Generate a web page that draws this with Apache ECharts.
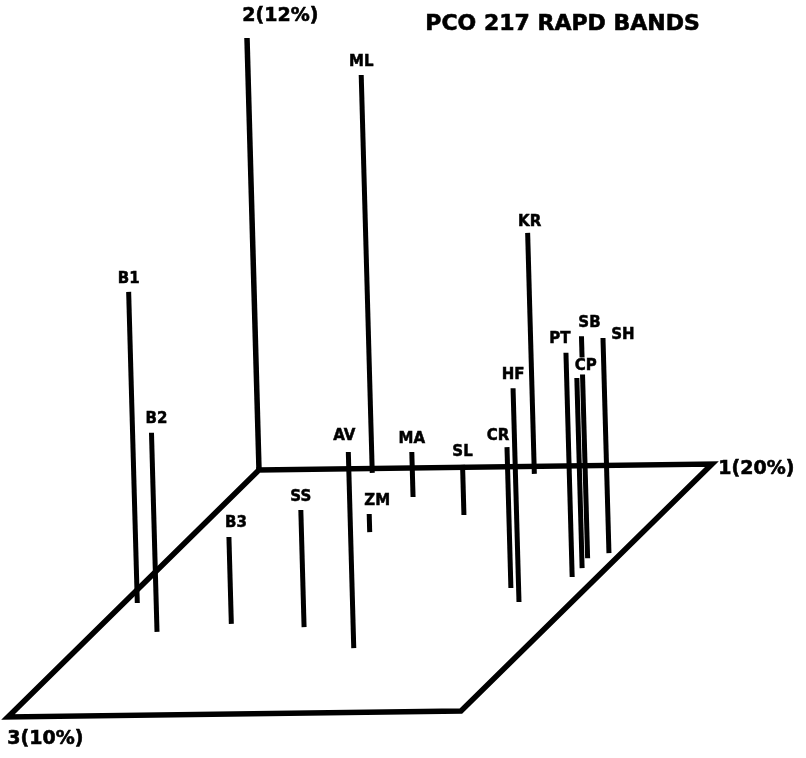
<!DOCTYPE html>
<html>
<head>
<meta charset="utf-8">
<script src="https://cdn.jsdelivr.net/npm/echarts@6/dist/echarts.min.js"></script>
<style>
  html, body { margin: 0; padding: 0; background: #fff; }
  #chart { width: 806px; height: 758px; }
</style>
</head>
<body>
<div id="chart"></div>
<script>
// ---- Data (PCO scores; each axis scaled 0..1 over its drawn length) ----
const names = ['B1','B2','B3','SS','AV','ML','ZM','MA','SL','CR','HF','KR','PT','CP','SB','SH'];
const pc1 = [0.030, 0.140, 0.288, 0.458, 0.617, 0.260, 0.389, 0.406, 0.561, 0.832, 0.882, 0.625, 0.944, 0.946, 0.936, 0.972];
const pc2 = [0.720, 0.461, 0.201, 0.271, 0.454, 0.921, 0.042, 0.104, 0.116, 0.326, 0.495, 0.558, 0.519, 0.440, 0.514, 0.498];
const pc3 = [0.539, 0.659, 0.630, 0.647, 0.736, 0.018, 0.261, 0.119, 0.196, 0.498, 0.556, 0.031, 0.456, 0.420, 0.380, 0.360];
const axisNames = ['1(20%)', '2(12%)', '3(10%)'];
const titleText = 'PCO 217 RAPD BANDS';

// ---- Layout: oblique projection of the three PCO axes onto the page ----
const ORIGIN = [259, 470];
const E1 = [453, -6];     // axis 1 direction (full length)
const E2 = [-12, -432];   // axis 2 direction (full length)
const E3 = [-251, 247];   // axis 3 direction (full length)
function project(a, h, c) {
  return [ORIGIN[0] + a * E1[0] + h * E2[0] + c * E3[0],
          ORIGIN[1] + a * E1[1] + h * E2[1] + c * E3[1]];
}
// label offsets relative to default (centered above the top of each line)
const labelShift = {
  B2: [5, -1], B3: [7, -1], AV: [-4, -3], ZM: [8, 0], CR: [-9, 2], KR: [2, 2],
  PT: [-6, -1], CP: [9, 1], SB: [8, 0], SH: [20, 10]
};

const FONT = '"DejaVu Sans", "Liberation Sans", Arial, sans-serif';
const heavy = { stroke: '#000', lineWidth: 0.6 };

const plane = [project(0,0,0), project(1,0,0), project(1,0,1), project(0,0,1), project(0,0,0)];
const axis2 = [project(0,0,0), project(0,1,0)];

const chart = echarts.init(document.getElementById('chart'), null, { renderer: 'canvas' });
chart.setOption({
  animation: false,
  backgroundColor: '#fff',
  grid: { left: 0, right: 0, top: 0, bottom: 0 },
  xAxis: { type: 'value', min: 0, max: 806, show: false },
  yAxis: { type: 'value', min: 0, max: 758, inverse: true, show: false },
  graphic: [
    { type: 'text', left: 425, top: 13, z: 100,
      style: Object.assign({ text: titleText, font: 'bold 22px ' + FONT, fill: '#000' }, heavy) },
    { type: 'text', left: 242, top: 6, z: 100,
      style: Object.assign({ text: axisNames[1], font: 'bold 19px ' + FONT, fill: '#000' }, heavy) },
    { type: 'text', left: 718, top: 459, z: 100,
      style: Object.assign({ text: axisNames[0], font: 'bold 19px ' + FONT, fill: '#000' }, heavy) },
    { type: 'text', left: 7, top: 729, z: 100,
      style: Object.assign({ text: axisNames[2], font: 'bold 19px ' + FONT, fill: '#000' }, heavy) }
  ],
  series: [
    {
      type: 'line', data: plane, symbol: 'none', silent: true,
      lineStyle: { color: '#000', width: 5.5, join: 'miter', cap: 'square' }, z: 2
    },
    {
      type: 'line', data: axis2, symbol: 'none', silent: true,
      lineStyle: { color: '#000', width: 5.5, cap: 'butt' }, z: 2
    },
    {
      type: 'custom', z: 3, silent: true,
      data: names.map((n, i) => project(pc1[i], pc2[i], pc3[i]).concat([i])),
      renderItem: function (params, api) {
        const i = params.dataIndex;
        const b = api.coord(project(pc1[i], 0, pc3[i]));
        const t = api.coord(project(pc1[i], pc2[i], pc3[i]));
        const sh = labelShift[names[i]] || [0, 0];
        return {
          type: 'group',
          children: [
            { type: 'line', z2: 1,
              shape: { x1: b[0], y1: b[1], x2: t[0], y2: t[1] },
              style: { stroke: '#000', lineWidth: 5 } },
            { type: 'text', z2: 10,
              x: t[0] + sh[0], y: t[1] - 13 + sh[1],
              style: { text: names[i], font: 'bold 15px ' + FONT, fill: '#000',
                       stroke: '#000', lineWidth: 0.5,
                       align: 'center', verticalAlign: 'middle',
                       backgroundColor: '#fff', padding: [1, 1] } }
          ]
        };
      }
    }
  ]
});
</script>
</body>
</html>
